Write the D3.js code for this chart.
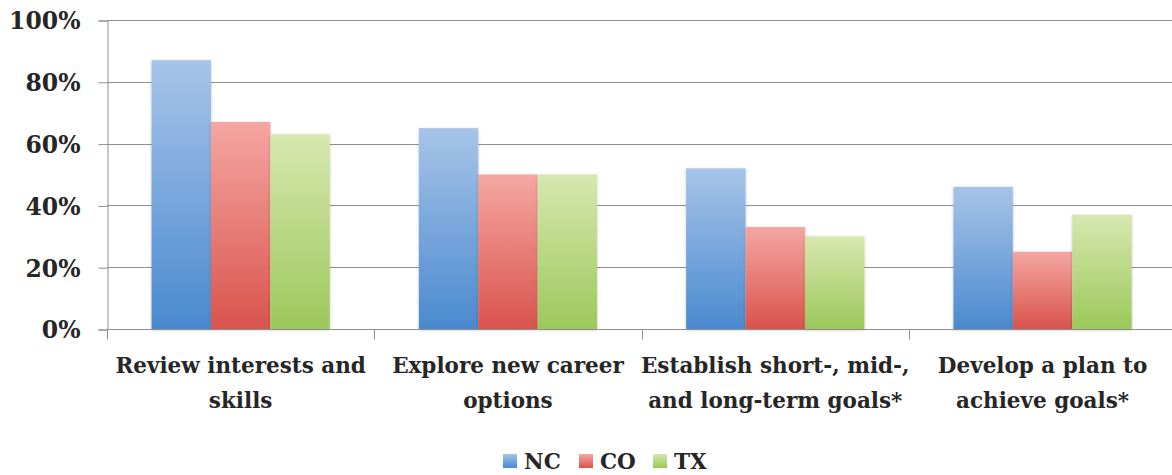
<!DOCTYPE html>
<html>
<head>
<meta charset="utf-8">
<script src="https://cdn.jsdelivr.net/npm/d3@7"></script>
<style>
  html, body { margin: 0; padding: 0; background: #ffffff; }
  svg { display: block; }
  text { font-family: "DejaVu Serif", serif; font-weight: bold; fill: #262626; }
</style>
</head>
<body>
<svg id="chart" width="1172" height="475"></svg>
<script>
const categories = [
  "Review interests and\nskills",
  "Explore new career\noptions",
  "Establish short-, mid-,\nand long-term goals*",
  "Develop a plan to\nachieve goals*"
];
const seriesNames = ["NC", "CO", "TX"];
const NC = [0.87, 0.65, 0.52, 0.46];
const CO = [0.67, 0.50, 0.33, 0.25];
const TX = [0.63, 0.50, 0.30, 0.37];
const yTicks = [0, 0.2, 0.4, 0.6, 0.8, 1.0];

const seriesValues = [NC, CO, TX];
const colorsTop = ["#a7c4e8", "#f5a6a2", "#d7e7b0"];
const colorsBottom = ["#4a89cf", "#d9534c", "#9bc85a"];

const svg = d3.select("#chart");
const mLeft = 107, mBottom = 329, mTop = 20;
const bandW = 267.3;
const mRight = mLeft + bandW * categories.length;

const x = d3.scaleBand().domain(categories).range([mLeft, mRight]).padding(0);
const xs = d3.scaleBand().domain(seriesNames)
  .range([x.bandwidth() / 6, x.bandwidth() * 5 / 6]).padding(0);
const y = d3.scaleLinear().domain([0, 1]).range([mBottom, mTop]);

const defs = svg.append("defs");
seriesNames.forEach((s, i) => {
  const g = defs.append("linearGradient").attr("id", "grad" + i)
    .attr("x1", 0).attr("y1", 0).attr("x2", 0).attr("y2", 1);
  g.append("stop").attr("offset", "0%").attr("stop-color", colorsTop[i]);
  g.append("stop").attr("offset", "100%").attr("stop-color", colorsBottom[i]);
});
const f = defs.append("filter").attr("id", "shadow")
  .attr("x", "-10%").attr("y", "-10%").attr("width", "120%").attr("height", "120%");
f.append("feGaussianBlur").attr("in", "SourceAlpha").attr("stdDeviation", 1.5).attr("result", "b");
f.append("feOffset").attr("in", "b").attr("dx", 0).attr("dy", 1).attr("result", "o");
f.append("feComponentTransfer").attr("in", "o").attr("result", "o2")
  .append("feFuncA").attr("type", "linear").attr("slope", 0.25);
const fm = f.append("feMerge");
fm.append("feMergeNode").attr("in", "o2");
fm.append("feMergeNode").attr("in", "SourceGraphic");

// gridlines
svg.append("g").selectAll("line").data(yTicks.filter(d => d > 0)).join("line")
  .attr("x1", mLeft).attr("x2", mRight)
  .attr("y1", d => Math.round(y(d)) + 0.5).attr("y2", d => Math.round(y(d)) + 0.5)
  .attr("stroke", "#8f8f8f").attr("stroke-width", 1);

// y axis
const yAxis = d3.axisLeft(y).tickValues(yTicks).tickFormat(d3.format(".0%"))
  .tickSize(9).tickPadding(18);
const yg = svg.append("g").attr("transform", `translate(${mLeft + 0.5},0.5)`).call(yAxis);
yg.select(".domain").attr("stroke", "#8f8f8f");
yg.selectAll(".tick line").attr("stroke", "#8f8f8f");
yg.selectAll(".tick text").attr("font-size", 23.5).attr("font-family", "DejaVu Serif")
  .attr("font-weight", "bold").attr("fill", "#262626").attr("dy", "0.36em");

// bars
const groups = svg.append("g").selectAll("g").data(categories).join("g")
  .attr("transform", d => `translate(${x(d)},0)`);
groups.selectAll("rect").data((d, ci) => seriesNames.map((s, si) => ({ s, si, v: seriesValues[si][ci] })))
  .join("rect")
  .attr("x", d => xs(d.s)).attr("width", xs.bandwidth())
  .attr("y", d => y(d.v)).attr("height", d => y(0) - y(d.v))
  .attr("fill", d => `url(#grad${d.si})`)
  .attr("filter", "url(#shadow)");

// x axis
const xg = svg.append("g").attr("transform", `translate(0,${mBottom + 0.5})`);
xg.append("line").attr("x1", mLeft).attr("x2", mRight).attr("stroke", "#8f8f8f");
const boundaries = categories.map(c => x(c)).concat([mRight]);
xg.selectAll("line.tk").data(boundaries).join("line").attr("class", "tk")
  .attr("x1", d => Math.round(d) + 0.5).attr("x2", d => Math.round(d) + 0.5)
  .attr("y1", 0).attr("y2", 10).attr("stroke", "#8f8f8f");

const labels = svg.append("g").selectAll("text").data(categories).join("text")
  .attr("x", d => x(d) + x.bandwidth() / 2)
  .attr("y", 373)
  .attr("text-anchor", "middle")
  .attr("font-size", 21.5);
labels.selectAll("tspan").data(d => d.split("\n")).join("tspan")
  .attr("x", function () { return d3.select(this.parentNode).attr("x"); })
  .attr("dy", (d, i) => i === 0 ? 0 : 35)
  .text(d => d);

// legend
const legendX = [503, 579, 653];
const lg = svg.append("g").selectAll("g").data(seriesNames).join("g")
  .attr("transform", (d, i) => `translate(${legendX[i]},454)`);
lg.append("rect").attr("width", 14).attr("height", 14).attr("fill", (d, i) => `url(#grad${i})`);
lg.append("text").attr("x", 21).attr("y", 15).attr("font-size", 21.5).text(d => d);
</script>
</body>
</html>
